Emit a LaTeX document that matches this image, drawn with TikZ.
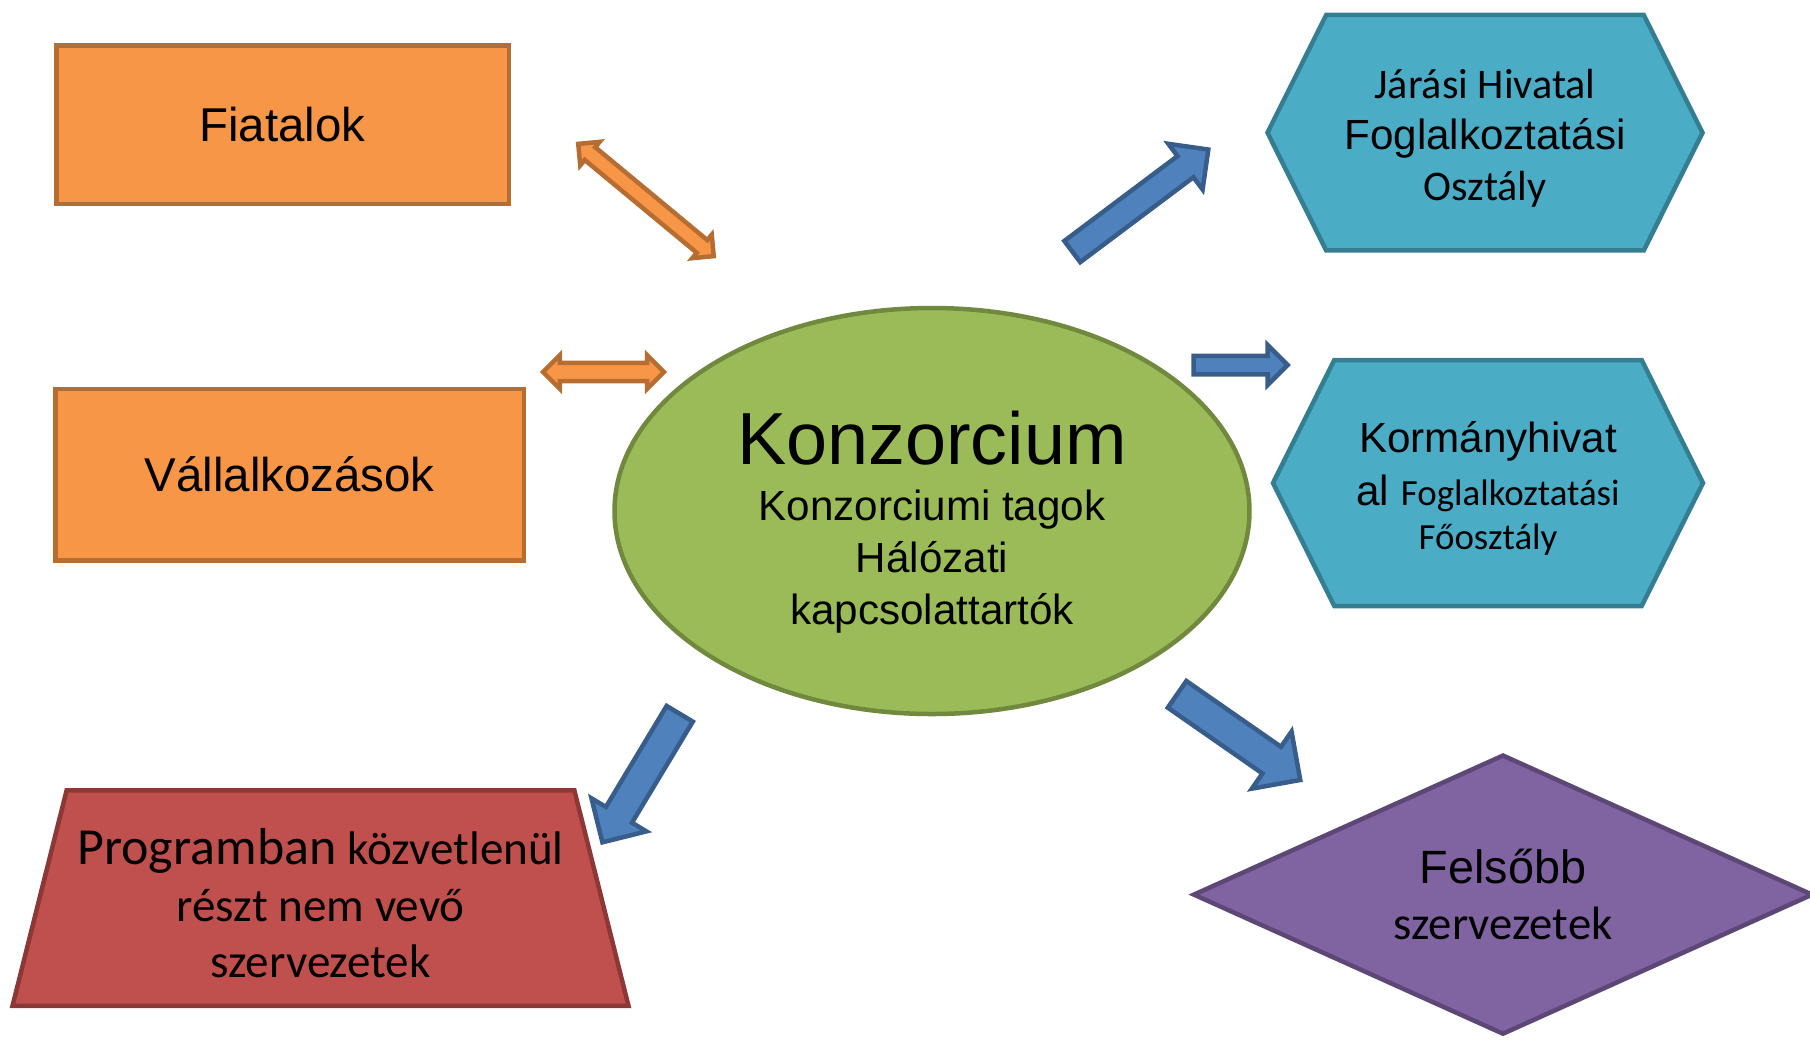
\documentclass[tikz,border=0pt]{standalone}
\usepackage{fontspec}
\setmainfont{Liberation Sans}
\newfontfamily\calib{Carlito}
\usetikzlibrary{shapes.geometric,shapes.symbols,shapes.arrows}

\definecolor{narancs}{HTML}{F79646}
\definecolor{narancssz}{HTML}{B66D31}
\definecolor{zold}{HTML}{9BBB59}
\definecolor{zoldsz}{HTML}{71893F}
\definecolor{turkiz}{HTML}{4BACC6}
\definecolor{turkizsz}{HTML}{357D91}
\definecolor{lila}{HTML}{8064A2}
\definecolor{lilasz}{HTML}{5C4776}
\definecolor{piros}{HTML}{C0504D}
\definecolor{pirossz}{HTML}{8C3836}
\definecolor{nyilkek}{HTML}{4F81BD}
\definecolor{nyilkeksz}{HTML}{385D8A}

\begin{document}
\begin{tikzpicture}[x=0.1mm,y=-0.1mm,
		alak/.style={line width=0.45mm, inner sep=0pt, align=center},
		doboz/.style={alak, rectangle, fill=narancs, draw=narancssz, font=\fontsize{13.5}{16}\selectfont},
		hatszog/.style={alak, signal, signal to=west and east, signal pointer angle=127, fill=turkiz, draw=turkizsz},
		kettos/.style={double arrow, fill=narancs, draw=narancssz, line width=0.45mm, inner xsep=0pt, double arrow tip angle=90, sloped, allow upside down},
		nyil/.style={single arrow, fill=nyilkek, draw=nyilkeksz, line width=0.45mm, inner xsep=0pt, single arrow tip angle=90, sloped, allow upside down}]
	
	\useasboundingbox (0,0) rectangle (1810,1040);
	
	% bal oldal
	\node[doboz, minimum width=45.25mm, minimum height=15.85mm] (fiat) at (282.5,124.5) {Fiatalok};
	
	\node[doboz, minimum width=46.85mm, minimum height=17.15mm] (vall) at (289.7,474.5) {Vállalkozások};
	
	\node[alak, trapezium, trapezium left angle=72, trapezium right angle=72, trapezium stretches=true,
		fill=piros, draw=pirossz, minimum width=61.65mm, minimum height=21.55mm,
		font=\calib\fontsize{13.4}{16}\selectfont] (prog) at (320.5,898)
		{\rule{0pt}{13.3pt}{\fontsize{14.8}{16}\selectfont Programban} közvetlenül\\ részt nem vevő\\ szervezetek};
	
	% középen
	\node[alak, ellipse, fill=zold, draw=zoldsz, minimum width=63.5mm, minimum height=40.6mm,
		font=\fontsize{12}{14.8}\selectfont] (kons) at (932,511)
		{\rule{0pt}{21.6pt}{\fontsize{21}{25}\selectfont Konzorcium}\\[1pt] Konzorciumi tagok\\ Hálózati\\ kapcsolattartók};
	
	% jobb oldal
	\node[hatszog, minimum width=43.5mm, minimum height=23.55mm, font=\fontsize{12}{14.5}\selectfont] (jaras) at (1485,132.7)
		{\rule{0pt}{11.7pt}{\calib Járási Hivatal}\\ Foglalkoztatási\\ {\calib Osztály}};
	
	\node[hatszog, minimum width=43mm, minimum height=24.6mm, font=\fontsize{12}{15}\selectfont] (korm) at (1488,483)
		{\rule{0pt}{11.9pt}Kormányhivat\\ al {\calib\fontsize{10.5}{12.6}\selectfont Foglalkoztatási}\\[-2.5pt] {\calib\fontsize{10.5}{12.6}\selectfont Főosztály}};
	
	\node[alak, diamond, shape aspect=2.2, fill=lila, draw=lilasz, minimum width=62mm, minimum height=28mm,
		font=\fontsize{13.3}{15.9}\selectfont] (fels) at (1503,894.6) {Felsőbb\\ {\calib szervezetek}};
	
	% nyilak
	\coordinate (f1) at (576,142);
	\coordinate (f2) at (716,258);
	\coordinate (v1) at (540,372);
	\coordinate (v2) at (667,372);
	\coordinate (j1) at (1065,257);
	\coordinate (j2) at (1205,152);
	\coordinate (k1) at (1186,365);
	\coordinate (k2) at (1286,365);
	\coordinate (p1) at (685,705);
	\coordinate (p2) at (605,838);
	\coordinate (s1) at (1168,688);
	\coordinate (s2) at (1296,777);
	
	\path (f1) -- node[kettos, inner ysep=0.6mm, double arrow head extend=0.7mm, minimum height=17.6mm] (fnyil) {} (f2);
	\path (v1) -- node[kettos, inner ysep=0.68mm, double arrow head extend=0.78mm, minimum height=12.1mm] (vnyil) {} (v2);
	\path (j1) -- node[nyil, inner ysep=1.1mm, single arrow head extend=1.53mm, minimum height=17mm] (jnyil) {} (j2);
	\path (k1) -- node[nyil, inner ysep=0.7mm, single arrow head extend=1.08mm, minimum height=9.4mm] (knyil) {} (k2);
	\path (p1) -- node[nyil, inner ysep=1.3mm, single arrow head extend=1.68mm, minimum height=15mm] (pnyil) {} (p2);
	\path (s1) -- node[nyil, inner ysep=1.4mm, single arrow head extend=1.85mm, minimum height=15mm] (snyil) {} (s2);
	
\end{tikzpicture}
\end{document}
